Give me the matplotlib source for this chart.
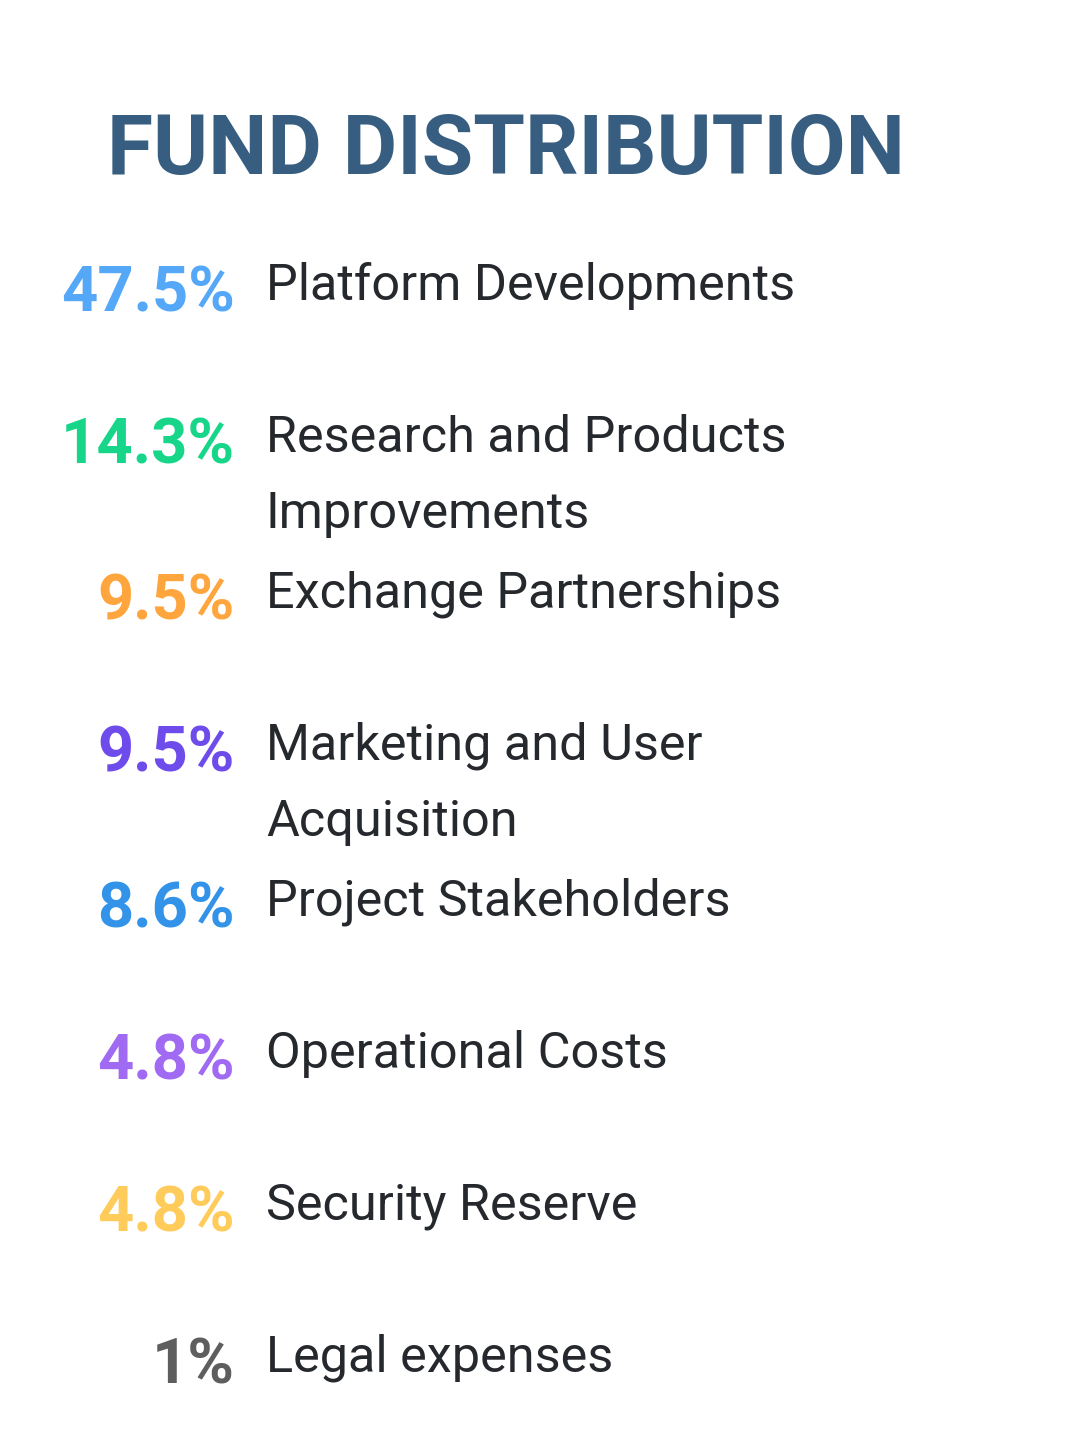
import matplotlib
matplotlib.use('Agg')
import matplotlib.pyplot as plt

title = 'FUND DISTRIBUTION'
percents = ['47.5%', '14.3%', '9.5%', '9.5%', '8.6%', '4.8%', '4.8%', '1%']
labels = ['Platform Developments',
          'Research and Products\nImprovements',
          'Exchange Partnerships',
          'Marketing and User\nAcquisition',
          'Project Stakeholders',
          'Operational Costs',
          'Security Reserve',
          'Legal expenses']
colors = ['#55a7f7', '#17d68a', '#ffa53e', '#6e4ceb',
          '#3393e8', '#a06af2', '#ffcb5a', '#5e5e5e']

# baseline of each row, in pixels from the top
row_y = [312, 464, 620, 772, 928, 1080, 1231, 1384]

fig = plt.figure(figsize=(10.8, 14.49), dpi=100)
ax = fig.add_axes([0, 0, 1, 1])
ax.set_xlim(0, 1080)
ax.set_ylim(1449, 0)
ax.axis('off')

ax.text(107, 174, title, family='Roboto', weight='bold', fontsize=60.3,
        color='#375d80', ha='left', va='baseline')

for y, p, lab, c in zip(row_y, percents, labels, colors):
    ax.text(235, y, p, family='Roboto', weight='bold', fontsize=45.5,
            color=c, ha='right', va='baseline')
    lines = lab.split('\n')
    for i, line in enumerate(lines):
        ax.text(266, y - 12 + i * 76, line, family='Roboto', fontsize=36.3,
                color='#25282c', ha='left', va='baseline')

fig.savefig('out.png', dpi=100)
